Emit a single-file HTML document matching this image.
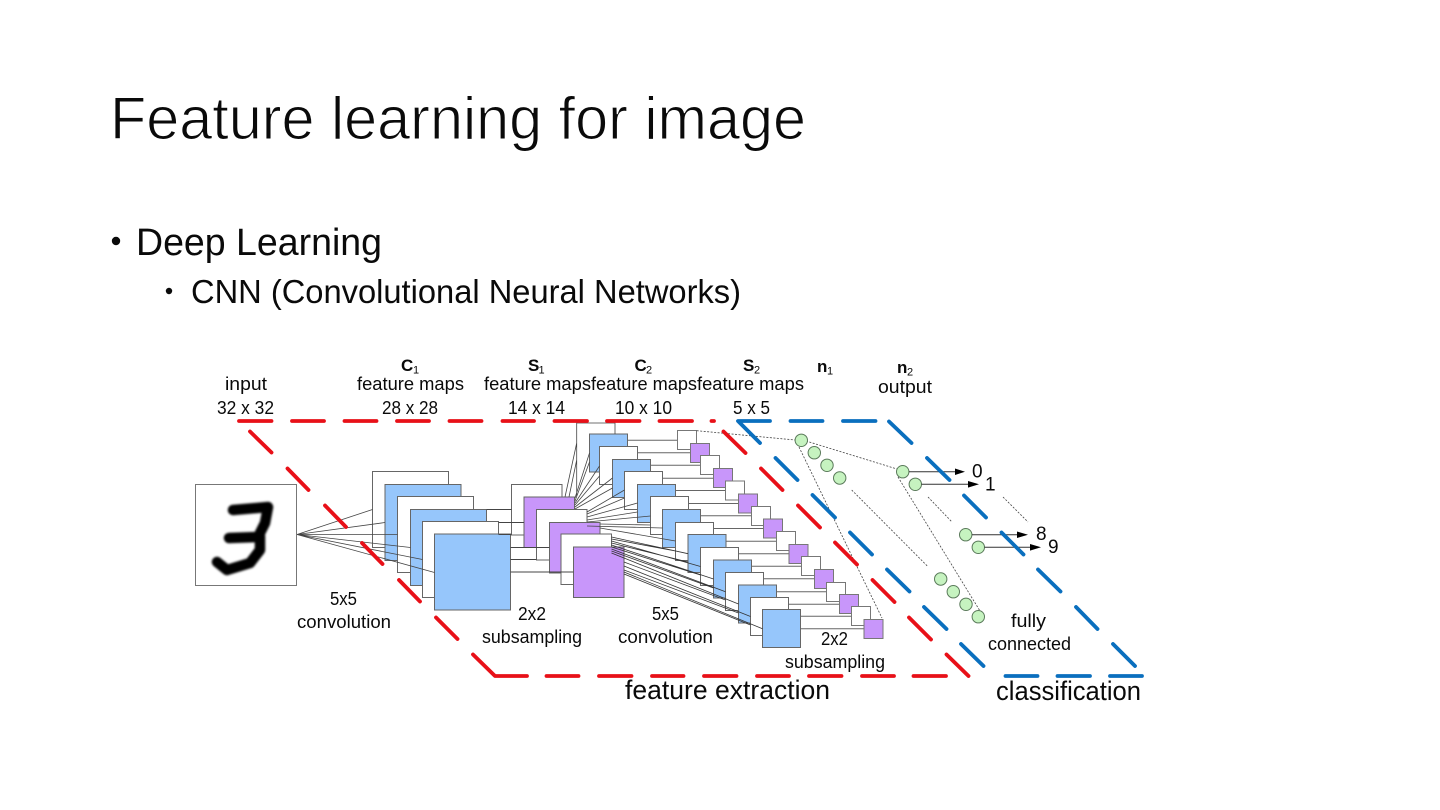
<!DOCTYPE html>
<html><head><meta charset="utf-8"><title>Feature learning for image</title>
<style>html,body{margin:0;padding:0;background:#fff}svg{display:block}text{font-family:"Liberation Sans",sans-serif;fill:#0a0a0a}</style></head>
<body>
<svg width="1440" height="810" viewBox="0 0 1440 810" xmlns="http://www.w3.org/2000/svg">
<defs><filter id="b" x="-20%" y="-20%" width="140%" height="140%"><feGaussianBlur stdDeviation="1"/></filter></defs>
<rect width="1440" height="810" fill="#fff"/>

<text x="110" y="139" font-size="60" textLength="696" lengthAdjust="spacingAndGlyphs" stroke="#fff" stroke-width="1.1">Feature learning for image</text>
<circle cx="116" cy="241" r="4.2" fill="#0a0a0a"/>
<text x="136" y="255" font-size="38" textLength="246" lengthAdjust="spacingAndGlyphs">Deep Learning</text>
<circle cx="169" cy="291" r="3.2" fill="#0a0a0a"/>
<text x="191" y="303" font-size="33" textLength="550" lengthAdjust="spacingAndGlyphs">CNN (Convolutional Neural Networks)</text>

<!-- input image -->
<rect x="195.5" y="484.5" width="101" height="101" fill="#fff" stroke="#777" stroke-width="1"/>
<path d="M233 510 L268 507 L265 523 L258 537 L229 538 M260 536 L260 550 L250 563 L227 570 L217 562" fill="none" stroke="#000" stroke-width="10.5" stroke-linejoin="round" stroke-linecap="round" filter="url(#b)"/>

<!-- C1 sheets -->
<g stroke="#666" stroke-width="1">
<rect x="372.5" y="471.5" width="76" height="76" fill="#fff"/>
<rect x="385" y="484.5" width="76" height="76" fill="#96c6fb"/>
<rect x="397.5" y="496.5" width="76" height="76" fill="#fff"/>
<rect x="410.5" y="509.5" width="76" height="76" fill="#96c6fb"/>
<rect x="422.5" y="521.5" width="76" height="76" fill="#fff"/>
<rect x="434.5" y="534" width="76" height="76" fill="#96c6fb"/>
<!-- S1 sheets -->
<rect x="511.5" y="484.5" width="50.5" height="50.5" fill="#fff"/>
<rect x="524" y="497" width="50.5" height="50.5" fill="#c896fa"/>
<rect x="536.5" y="509.5" width="50.5" height="50.5" fill="#fff"/>
<rect x="549.5" y="522.5" width="50.5" height="50.5" fill="#c896fa"/>
<rect x="561" y="534" width="50.5" height="50.5" fill="#fff"/>
<rect x="573.5" y="547" width="50.5" height="50.5" fill="#c896fa"/>
</g>

<!-- C2 -> S2 connectors -->
<path d="M627 440.2H678M637 452.8H690M651 465.2H701M663 478.2H713M676 490.5H726M688 503.5H739M701 515.8H751M713 528.5H764M726 541.2H776M739 553.8H789M751 566.2H802M763 578.8H814M777 591.8H826M788 604.2H839M801 616.2H851M801 628.8H864" stroke="#666" stroke-width="1" fill="none"/>

<!-- C2 sheets -->
<g stroke="#666" stroke-width="1">
<rect x="589.5" y="434" width="38" height="38" fill="#96c6fb"/>
<rect x="599.5" y="446.5" width="38" height="38" fill="#fff"/>
<rect x="612.5" y="459.5" width="38" height="38" fill="#96c6fb"/>
<rect x="624.5" y="471.5" width="38" height="38" fill="#fff"/>
<rect x="637.5" y="484.5" width="38" height="38" fill="#96c6fb"/>
<rect x="650.5" y="496.5" width="38" height="38" fill="#fff"/>
<rect x="662.5" y="509.5" width="38" height="38" fill="#96c6fb"/>
<rect x="675.5" y="522.5" width="38" height="38" fill="#fff"/>
<rect x="688" y="534.5" width="38" height="38" fill="#96c6fb"/>
<rect x="700.5" y="547.5" width="38" height="38" fill="#fff"/>
<rect x="713.5" y="560" width="38" height="38" fill="#96c6fb"/>
<rect x="725.5" y="572.5" width="38" height="38" fill="#fff"/>
<rect x="738.5" y="585" width="38" height="38" fill="#96c6fb"/>
<rect x="750.5" y="597.5" width="38" height="38" fill="#fff"/>
<rect x="762.5" y="609.5" width="38" height="38" fill="#96c6fb"/>
</g>
<!-- S2 sheets -->
<g stroke="#777" stroke-width="1">
<rect x="677.5" y="430.5" width="19" height="19" fill="#fff"/>
<rect x="690.5" y="443.5" width="19" height="19" fill="#c896fa"/>
<rect x="700.5" y="455.5" width="19" height="19" fill="#fff"/>
<rect x="713.5" y="468.5" width="19" height="19" fill="#c896fa"/>
<rect x="725.5" y="481" width="19" height="19" fill="#fff"/>
<rect x="738.5" y="494" width="19" height="19" fill="#c896fa"/>
<rect x="751.5" y="506.5" width="19" height="19" fill="#fff"/>
<rect x="763.5" y="519" width="19" height="19" fill="#c896fa"/>
<rect x="776.5" y="531.5" width="19" height="19" fill="#fff"/>
<rect x="789" y="544.5" width="19" height="19" fill="#c896fa"/>
<rect x="801.5" y="556.5" width="19" height="19" fill="#fff"/>
<rect x="814.5" y="569.5" width="19" height="19" fill="#c896fa"/>
<rect x="826.5" y="582.5" width="19" height="19" fill="#fff"/>
<rect x="839.5" y="594.5" width="19" height="19" fill="#c896fa"/>
<rect x="851.5" y="606.5" width="19" height="19" fill="#fff"/>
<rect x="864" y="619.5" width="19" height="19" fill="#c896fa"/>
</g>

<!-- input fan and C1 -> S1 connectors -->
<path d="M297 534.5L372.5 509.5M297 534.5L385 522.5M297 534.5L397.5 534.5M297 534.5L410.5 547.5M297 534.5L422.5 559.5M297 534.5L434.5 572.5" stroke="#444" stroke-width="0.8" fill="none"/>
<path d="M486.5 509.5H511.5M498.5 522.5H524M498.5 534.5H511.5M510.5 547.5H549.5M510.5 559.5H536.5M510.5 572H573.5" stroke="#444" stroke-width="0.9" fill="none"/>

<!-- S1 -> C2 fan -->
<path d="M565 497L576.7 443M569 497L576.7 460M576.7 421V497M576.7 423H615V434
M575 498L589.5 453M575 501L589.5 462M575 503L599.5 466M575 505L599.5 476M575 507L612.5 478M575 509L612.5 488
M587 512L624.5 490M587 514L624.5 498M587 517L637.5 503M587 520L637.5 512M587 522L650.5 516M587 526L662.5 528
M600 524L650.5 525M600 528L675.5 541" stroke="#444" stroke-width="0.8" fill="none"/>
<path d="M611.5 537L688 553.7M611.5 539L675.5 551M611.5 541L700.5 566.5M611.5 543L688 562M611.5 545L713.5 579M611.5 547L700.5 575M611.5 549L725.5 591.7M611.5 551L713.5 588M611.5 553L738.5 604M624 562L725.5 600M624 566L750.5 616.5M624 570L738.5 613M624 572L762.5 628.7M624 574L750.5 625" stroke="#333" stroke-width="0.8" fill="none"/>

<!-- dotted lines -->
<g stroke="#444" stroke-width="0.8" stroke-dasharray="2 1.5" fill="none">
<path d="M696.7 430.7L795 440"/>
<path d="M806 441L897 469"/>
<path d="M799 447L882 618"/>
<path d="M898 477L980 611"/>
<path d="M851.7 490L928 566.7"/>
<path d="M928 497L952 522"/>
<path d="M1003 497L1028 522"/>
</g>

<!-- circles -->
<g fill="#c6f3c0" stroke="#5a7a5a" stroke-width="1">
<circle cx="801.3" cy="440.3" r="6.2"/><circle cx="814.3" cy="452.7" r="6.2"/><circle cx="827" cy="465.3" r="6.2"/><circle cx="839.7" cy="478" r="6.2"/>
<circle cx="940.7" cy="579" r="6.2"/><circle cx="953.3" cy="591.7" r="6.2"/><circle cx="966" cy="604.3" r="6.2"/><circle cx="978.3" cy="616.7" r="6.2"/>
<circle cx="902.7" cy="471.7" r="6.2"/><circle cx="915.3" cy="484.3" r="6.2"/><circle cx="965.7" cy="534.7" r="6.2"/><circle cx="978.3" cy="547.3" r="6.2"/>
</g>

<!-- arrows -->
<g stroke="#333" stroke-width="1"><path d="M909 471.7H958M921.5 484.3H971M972 534.7H1020M984.5 547.3H1033" fill="none"/></g>
<g fill="#000">
<path d="M955 468.5L965 471.7L955 475Z"/>
<path d="M968 481L979 484.3L968 487.6Z"/>
<path d="M1017 531.5L1028 534.7L1017 538Z"/>
<path d="M1030 544L1041 547.3L1030 550.6Z"/>
</g>

<!-- red dashes -->
<path d="M239 421H271.5M292 421H324M344.5 421H376.5M397 421H429M449.5 421H481.5M502.5 421H534M554.5 421H587M607 421H639.5M659.5 421H692M711.5 421H714
M723.5 431.5L745.5 453M761 468.5L782.5 490M798 505.5L820 527.5M835 542.5L857 564.5M872.5 580L894.5 602M909 617.5L931 639.5M946.5 654.5L968.5 676
M250 431.5L271.5 452.5M287.5 468.5L308.5 490M325 505.5L346 527M362 543L382.5 564M399 580L420 601.5M436 617.5L457.5 639M473 654.5L495 676H527
M546.5 676H578.5M599 676H631.5M652 676H683.5M704 676H736.5M757 676H789M809 676H841.5M862 676H894M913.5 676H946"
 fill="none" stroke="#e81018" stroke-width="3.8" stroke-linecap="round" stroke-linejoin="round"/>

<!-- blue dashes -->
<path d="M760 443L738 421H770M790.5 421H822.5M843 421H875.5M889 421.5L911.5 443M927 458L949.5 480M964 495.5L986 517.5M1001.5 532.5L1023.5 554.5M1038 569.5L1060.5 591.5M1076 607L1097.5 629M1113 644L1135 666
M775.5 458L797.5 480M812.5 495L835 517.5M850 532.5L872 554.5M887 569.5L909.5 591.5M924 607L946.5 629M961 644L983.5 666
M1005.5 676H1037.5M1057.5 676H1090M1110 676H1142"
 fill="none" stroke="#0a6fbe" stroke-width="3.8" stroke-linecap="round" stroke-linejoin="round"/>

<!-- labels -->
<g font-size="18">
<text x="225" y="390" textLength="42" lengthAdjust="spacingAndGlyphs">input</text>
<text x="217" y="414" textLength="57" lengthAdjust="spacingAndGlyphs">32 x 32</text>
<text x="357" y="390" textLength="107" lengthAdjust="spacingAndGlyphs">feature maps</text>
<text x="382" y="414" textLength="56" lengthAdjust="spacingAndGlyphs">28 x 28</text>
<text x="484" y="390" textLength="107" lengthAdjust="spacingAndGlyphs">feature maps</text>
<text x="508" y="414" textLength="57" lengthAdjust="spacingAndGlyphs">14 x 14</text>
<text x="591" y="390" textLength="106" lengthAdjust="spacingAndGlyphs">feature maps</text>
<text x="615" y="414" textLength="57" lengthAdjust="spacingAndGlyphs">10 x 10</text>
<text x="697" y="390" textLength="107" lengthAdjust="spacingAndGlyphs">feature maps</text>
<text x="733" y="414" textLength="37" lengthAdjust="spacingAndGlyphs">5 x 5</text>
<text x="878" y="393" textLength="54" lengthAdjust="spacingAndGlyphs">output</text>
<text x="330" y="605" textLength="27" lengthAdjust="spacingAndGlyphs">5x5</text>
<text x="297" y="628" textLength="94" lengthAdjust="spacingAndGlyphs">convolution</text>
<text x="518" y="620" textLength="28" lengthAdjust="spacingAndGlyphs">2x2</text>
<text x="482" y="643" textLength="100" lengthAdjust="spacingAndGlyphs">subsampling</text>
<text x="652" y="620" textLength="27" lengthAdjust="spacingAndGlyphs">5x5</text>
<text x="618" y="643" textLength="95" lengthAdjust="spacingAndGlyphs">convolution</text>
<text x="821" y="645" textLength="27" lengthAdjust="spacingAndGlyphs">2x2</text>
<text x="785" y="668" textLength="100" lengthAdjust="spacingAndGlyphs">subsampling</text>
<text x="1011" y="627" textLength="35" lengthAdjust="spacingAndGlyphs">fully</text>
<text x="988" y="650" textLength="83" lengthAdjust="spacingAndGlyphs">connected</text>
</g>
<g font-size="19">
<text x="972" y="477.5">0</text>
<text x="985" y="490.5">1</text>
<text x="1036" y="540">8</text>
<text x="1048" y="553">9</text>
</g>
<g font-size="17" font-weight="bold">
<text x="401" y="371">C</text><text x="528" y="371">S</text><text x="634.5" y="371">C</text><text x="743" y="371">S</text>
<text x="817" y="372">n</text><text x="897" y="373">n</text>
</g>
<g font-size="11">
<text x="413" y="373.5">1</text><text x="538.5" y="373.5">1</text><text x="646" y="373.5">2</text><text x="754" y="373.5">2</text>
<text x="827" y="374.5">1</text><text x="907" y="375.5">2</text>
</g>
<text x="625" y="699" font-size="27" textLength="205" lengthAdjust="spacingAndGlyphs">feature extraction</text>
<text x="996" y="700" font-size="27" textLength="145" lengthAdjust="spacingAndGlyphs">classification</text>
</svg>
</body></html>
